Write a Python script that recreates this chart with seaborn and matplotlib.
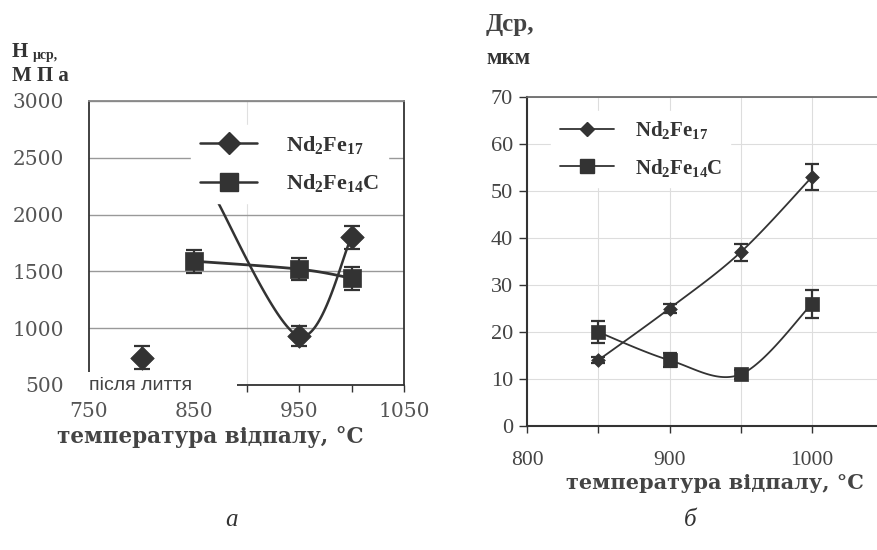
import matplotlib
matplotlib.use("Agg")
import matplotlib.pyplot as plt
from matplotlib.lines import Line2D
from matplotlib.patches import Rectangle
import numpy as np
import pandas as pd
import seaborn as sns

# --- panel a: microhardness, MPa ---
a_fe17_x = [800, 950, 1000]
a_fe17_y = [740, 930, 1800]
a_fe17_err = [100, 90, 100]
# trend curve drawn through the Nd2Fe17 points (starts without a marker)
a_fe17_curve_x = [868, 950, 1000]
a_fe17_curve_y = [2190, 930, 1800]
a_fe14c_x = [850, 950, 1000]
a_fe14c_y = [1590, 1520, 1440]
a_fe14c_err = [100, 100, 100]
a_yticks = [500, 1000, 1500, 2000, 2500, 3000]
a_xlabels = [750, 850, 950, 1050]

# --- panel b: mean grain size, um ---
b_x = [850, 900, 950, 1000]
b_fe17_y = [14, 25, 37, 53]
b_fe17_err = [0.6, 1, 1.8, 2.8]
b_fe14c_y = [20, 14, 11, 26]
b_fe14c_err = [2.4, 1.5, 1, 3]
b_yticks = [0, 10, 20, 30, 40, 50, 60, 70]
b_xlabels = [800, 900, 1000]

lab17 = r'$\mathbf{Nd_2Fe_{17}}$'
lab14 = r'$\mathbf{Nd_2Fe_{14}C}$'
xlab = 'температура відпалу, °C'

INK = '#333333'
W, H = 877, 550


def smooth(xs, ys, n=40):
	# excel-like smoothed line (cubic bezier between the points)
	p = np.column_stack([xs, ys]).astype(float)
	out = []
	for i in range(len(p) - 1):
		prev = p[i - 1] if i > 0 else p[i]
		nxt = p[i + 2] if i + 2 < len(p) else p[i + 1]
		c1 = p[i] + (p[i + 1] - prev) / 6
		c2 = p[i + 1] - (nxt - p[i]) / 6
		t = np.linspace(0, 1, n)[:, None]
		seg = (1 - t)**3 * p[i] + 3 * (1 - t)**2 * t * c1 + 3 * (1 - t) * t**2 * c2 + t**3 * p[i + 1]
		out.append(seg if i == 0 else seg[1:])
	s = np.vstack(out)
	return pd.DataFrame({'x': s[:, 0], 'y': s[:, 1]})


def pos(x0, x1, y0, y1):
	return [x0 / W, 1 - y1 / H, (x1 - x0) / W, (y1 - y0) / H]


def series(ax, x, y, err, marker, ms, lw, cap, curve=None):
	df = curve if curve is not None else smooth(x, y)
	sns.lineplot(data=df, x='x', y='y', sort=False, estimator=None, color=INK, lw=lw, ax=ax, zorder=3)
	ax.errorbar(x, y, yerr=err, fmt='none', ecolor=INK, elinewidth=1.6, capsize=cap, capthick=1.6, zorder=4)
	sns.scatterplot(x=x, y=y, marker=marker, s=ms**2, color=INK, edgecolor=INK, linewidth=0.5, ax=ax, zorder=5)


sns.set_theme(style='white')
plt.rcParams['font.family'] = ['DejaVu Serif', 'DejaVu Sans']
plt.rcParams['mathtext.fontset'] = 'custom'
plt.rcParams['mathtext.rm'] = 'Liberation Serif'
plt.rcParams['mathtext.bf'] = 'Liberation Serif:bold'
plt.rcParams['mathtext.it'] = 'Liberation Serif:italic'

fig = plt.figure(figsize=(W / 100, H / 100), dpi=100)
fig.patch.set_facecolor('white')

# ---------------- panel a ----------------
ax = fig.add_axes(pos(89, 404, 101, 385))
ax.set_xlim(750, 1050)
ax.set_ylim(500, 3000)
ax.grid(axis='y', color='#999999', lw=1)
ax.axvline(900, color='#e0e0e0', lw=0.8, zorder=0)

series(ax, a_fe17_x, a_fe17_y, a_fe17_err, 'D', 12, 1.8, 6,
	curve=smooth(a_fe17_curve_x, a_fe17_curve_y))
series(ax, a_fe14c_x, a_fe14c_y, a_fe14c_err, 's', 13, 2.0, 6)

ax.set_yticks(a_yticks)
ax.set_yticklabels([str(v) for v in a_yticks], fontsize=14.5, color='#555555', family='DejaVu Serif')
ax.set_xticks(np.arange(750, 1051, 50))
ax.set_xticklabels([str(v) if v in a_xlabels else '' for v in np.arange(750, 1051, 50)],
	fontsize=14.5, color='#555555', family='DejaVu Serif')
ax.tick_params(axis='y', length=0, pad=18)
ax.tick_params(axis='x', length=5, width=1, color=INK, direction='out', pad=7, bottom=True)
ax.set_xlabel('')
ax.set_ylabel('')
for k, sp in ax.spines.items():
	sp.set_color(INK if k in ('left', 'bottom', 'right') else '#888888')
	sp.set_linewidth(1.3)

ax.add_patch(Rectangle((-0.04, -0.04), 0.51, 0.085, transform=ax.transAxes,
	facecolor='white', edgecolor='none', clip_on=False, zorder=6))
ax.text(0.0, 0.0, 'після лиття', transform=ax.transAxes, ha='left', va='center',
	fontsize=14, family='Liberation Sans', color='#444444', zorder=7, clip_on=False)

h17 = Line2D([], [], color=INK, lw=1.8, marker='D', ms=11)
h14 = Line2D([], [], color=INK, lw=1.8, marker='s', ms=13)
leg = ax.legend([h17, h14], [lab17, lab14], loc='upper right', bbox_to_anchor=(0.985, 0.955),
	fontsize=16, handlelength=2.6, handletextpad=1.3, labelspacing=0.75,
	frameon=True, fancybox=False, framealpha=1, facecolor='white', edgecolor='white',
	labelcolor=INK, alignment='right')
leg.set_zorder(8)

# ---------------- panel b ----------------
bx0 = 527
ax2 = fig.add_axes(pos(bx0, W, 97, 426))
ax2.set_xlim(800, 800 + (W - bx0) / 142.5 * 100)
ax2.set_ylim(0, 70)
ax2.grid(True, color='#dddddd', lw=0.8)
ax2.set_xticks([800, 850, 900, 950, 1000])
ax2.set_xticklabels([str(v) if v in b_xlabels else '' for v in [800, 850, 900, 950, 1000]],
	fontsize=15.5, color='#444444', family='Liberation Serif')
ax2.set_yticks(b_yticks)
ax2.set_yticklabels([str(v) for v in b_yticks], fontsize=16, color='#444444', family='Liberation Serif')
ax2.tick_params(axis='y', length=6, width=1, color=INK, direction='out', pad=4, left=True)
ax2.tick_params(axis='x', length=5, width=1, color=INK, direction='out', pad=13, bottom=True)
ax2.spines['right'].set_visible(False)
ax2.spines['top'].set_color('#666666')
for k in ('left', 'bottom'):
	ax2.spines[k].set_color(INK)
	ax2.spines[k].set_linewidth(1.5)

series(ax2, b_x, b_fe17_y, b_fe17_err, 'D', 7, 1.3, 5)
series(ax2, b_x, b_fe14c_y, b_fe14c_err, 's', 10, 1.3, 5)
ax2.set_xlabel('')
ax2.set_ylabel('')

g17 = Line2D([], [], color=INK, lw=1.3, marker='D', ms=7)
g14 = Line2D([], [], color=INK, lw=1.3, marker='s', ms=10)
leg2 = ax2.legend([g17, g14], [lab17, lab14], loc='upper left', bbox_to_anchor=(0.04, 0.99),
	fontsize=15, handlelength=2.6, handletextpad=1.0, labelspacing=0.75,
	frameon=True, fancybox=False, framealpha=1, facecolor='white', edgecolor='white',
	labelcolor=INK)
leg2.set_zorder(8)

# ---------------- axis titles and captions ----------------
fig.text(12 / W, 1 - 52 / H, 'H', fontsize=15, fontweight='bold', color=INK, va='center', family='Liberation Serif')
fig.text(33 / W, 1 - 56 / H, 'μср,', fontsize=10, fontweight='bold', color=INK, va='center', family='Liberation Serif')
fig.text(12 / W, 1 - 76 / H, 'М П а', fontsize=15, fontweight='bold', color=INK, va='center', family='Liberation Serif')
fig.text(486 / W, 1 - 25 / H, 'Дср,', fontsize=18, fontweight='bold', color='#444444', va='center', family='Liberation Serif')
fig.text(486 / W, 1 - 58 / H, 'мкм', fontsize=16.5, fontweight='bold', color=INK, va='center', family='Liberation Serif')

fig.text(210 / W, 1 - 437 / H, xlab, fontsize=15.5, fontweight='bold', color='#444444',
	ha='center', va='center', family='DejaVu Serif')
fig.text(715 / W, 1 - 483 / H, xlab, fontsize=15, fontweight='bold', color='#444444',
	ha='center', va='center', family='DejaVu Serif')
fig.text(232 / W, 1 - 520 / H, 'а', fontsize=18, style='italic', color=INK, ha='center', va='center', family='Liberation Serif')
fig.text(690 / W, 1 - 520 / H, 'б', fontsize=18, style='italic', color=INK, ha='center', va='center', family='Liberation Serif')

fig.savefig('out.png', dpi=100, facecolor='white')
